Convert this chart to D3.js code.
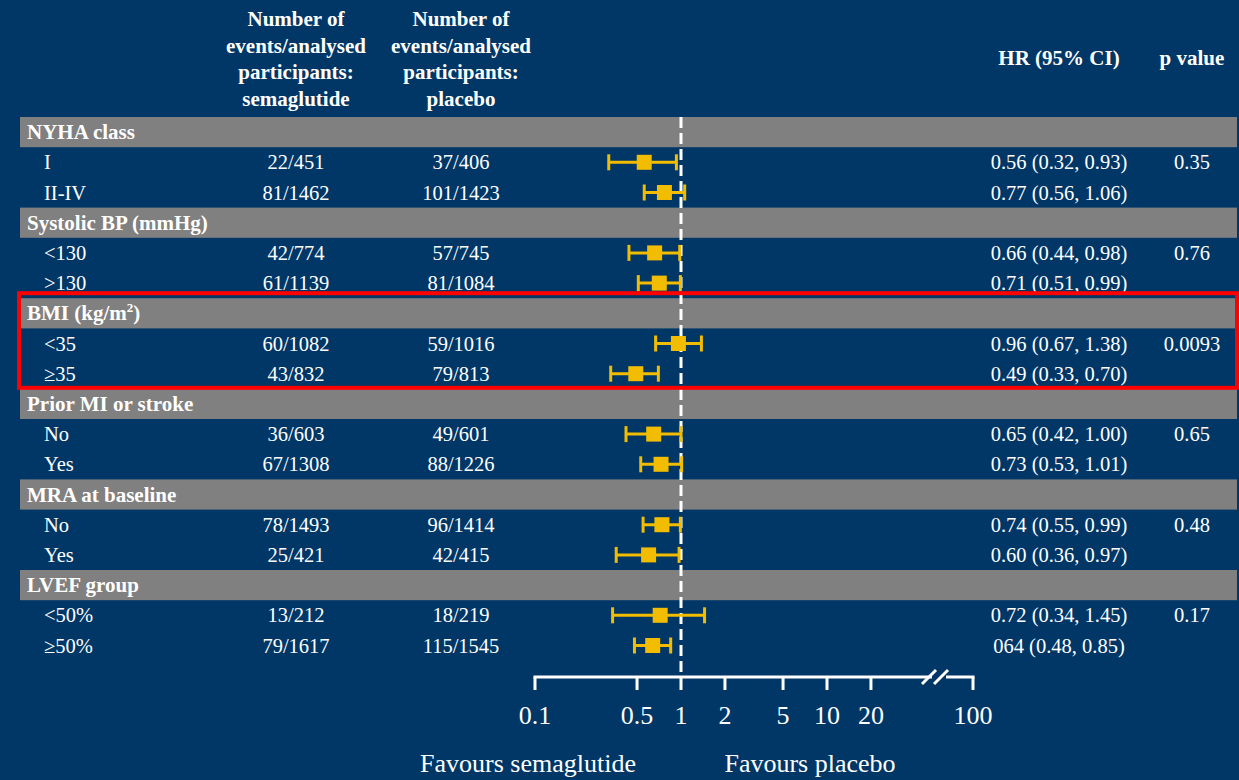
<!DOCTYPE html>
<html>
<head>
<meta charset="utf-8">
<script src="https://cdn.jsdelivr.net/npm/d3@7"></script>
<style>
  html, body { margin: 0; padding: 0; background: #013766; }
  svg { display: block; }
</style>
</head>
<body>
<svg id="chart" width="1239" height="780"></svg>
<script>
// Subgroup forest plot: semaglutide vs placebo
const groups = ["NYHA class", "Systolic BP (mmHg)", "BMI (kg/m²)", "Prior MI or stroke", "MRA at baseline", "LVEF group"];
const subgroups = [["I", "II-IV"], ["<130", ">130"], ["<35", "≥35"], ["No", "Yes"], ["No", "Yes"], ["<50%", "≥50%"]];
const semaEvents = [["22/451", "81/1462"], ["42/774", "61/1139"], ["60/1082", "43/832"], ["36/603", "67/1308"], ["78/1493", "25/421"], ["13/212", "79/1617"]];
const placeboEvents = [["37/406", "101/1423"], ["57/745", "81/1084"], ["59/1016", "79/813"], ["49/601", "88/1226"], ["96/1414", "42/415"], ["18/219", "115/1545"]];
const hr = [[0.56, 0.77], [0.66, 0.71], [0.96, 0.49], [0.65, 0.73], [0.74, 0.60], [0.72, 0.64]];
const ciLow = [[0.32, 0.56], [0.44, 0.51], [0.67, 0.33], [0.42, 0.53], [0.55, 0.36], [0.34, 0.48]];
const ciHigh = [[0.93, 1.06], [0.98, 0.99], [1.38, 0.70], [1.00, 1.01], [0.99, 0.97], [1.45, 0.85]];
const hrLabels = [["0.56 (0.32, 0.93)", "0.77 (0.56, 1.06)"], ["0.66 (0.44, 0.98)", "0.71 (0.51, 0.99)"], ["0.96 (0.67, 1.38)", "0.49 (0.33, 0.70)"], ["0.65 (0.42, 1.00)", "0.73 (0.53, 1.01)"], ["0.74 (0.55, 0.99)", "0.60 (0.36, 0.97)"], ["0.72 (0.34, 1.45)", "064 (0.48, 0.85)"]];
const pValues = ["0.35", "0.76", "0.0093", "0.65", "0.48", "0.17"];
const axisTicks = [0.1, 0.5, 1, 2, 5, 10, 20, 100];
const highlightedGroup = 2;

const svg = d3.select("#chart");
const W = 1239, H = 780;
const navy = "#013766", grey = "#808080", gold = "#F2BC00", white = "#ffffff";
const serif = "'Liberation Serif', 'Times New Roman', serif";
const bodySize = 20.5, headSize = 21, axisSize = 26;

svg.append("rect").attr("width", W).attr("height", H).attr("fill", navy);

// Row layout: each group = header row + two subgroup rows
const rowsPerGroup = 3;
const nRows = groups.length * rowsPerGroup;
const y = d3.scaleLinear().domain([0, nRows]).range([117, 117 + 30.2 * nRows]);
const x = d3.scaleLog().domain([0.1, 100]).range([535, 973]);

const colSema = 296, colPlacebo = 461, colHR = 1059, colP = 1192;

// Column headers
const headerLines = [
  { x: colSema, lines: ["Number of", "events/analysed", "participants:", "semaglutide"] },
  { x: colPlacebo, lines: ["Number of", "events/analysed", "participants:", "placebo"] }
];
headerLines.forEach(h => {
  svg.append("text")
    .attr("x", h.x).attr("y", 26)
    .attr("text-anchor", "middle")
    .attr("font-family", serif).attr("font-size", headSize).attr("font-weight", "bold")
    .attr("fill", white)
    .selectAll("tspan").data(h.lines).join("tspan")
    .attr("x", h.x).attr("dy", (d, i) => i === 0 ? 0 : 26.7)
    .text(d => d);
});
svg.append("text").attr("x", colHR).attr("y", 65).attr("text-anchor", "middle")
  .attr("font-family", serif).attr("font-size", headSize).attr("font-weight", "bold")
  .attr("fill", white).text("HR (95% CI)");
svg.append("text").attr("x", colP).attr("y", 65).attr("text-anchor", "middle")
  .attr("font-family", serif).attr("font-size", headSize).attr("font-weight", "bold")
  .attr("fill", white).text("p value");

// Group header bands
const gGroups = svg.append("g");
groups.forEach((g, gi) => {
  const r = gi * rowsPerGroup;
  gGroups.append("rect")
    .attr("x", 20).attr("width", 1217)
    .attr("y", y(r)).attr("height", y(r + 1) - y(r))
    .attr("fill", grey);
  const t = gGroups.append("text")
    .attr("x", 27).attr("y", y(r + 0.5) + 7)
    .attr("font-family", serif).attr("font-size", headSize).attr("font-weight", "bold")
    .attr("fill", white);
  if (g.includes("²")) {
    t.append("tspan").text("BMI (kg/m");
    t.append("tspan").attr("font-size", 13).attr("dy", -8).text("2");
    t.append("tspan").attr("dy", 8).text(")");
  } else {
    t.text(g);
  }
});

// Reference line at HR = 1
svg.append("line")
  .attr("x1", x(1)).attr("x2", x(1))
  .attr("y1", y(0)).attr("y2", 677)
  .attr("stroke", white).attr("stroke-width", 3)
  .attr("stroke-dasharray", "11,5");

// Subgroup rows
const gRows = svg.append("g");
groups.forEach((g, gi) => {
  subgroups[gi].forEach((s, si) => {
    const r = gi * rowsPerGroup + 1 + si;
    const cy = y(r + 0.5);
    const ty = cy + 7;
    const txt = (xx, label, anchor) => gRows.append("text")
      .attr("x", xx).attr("y", ty).attr("text-anchor", anchor)
      .attr("font-family", serif).attr("font-size", bodySize).attr("fill", white).text(label);
    txt(44, s, "start");
    txt(colSema, semaEvents[gi][si], "middle");
    txt(colPlacebo, placeboEvents[gi][si], "middle");
    txt(colHR, hrLabels[gi][si], "middle");
    if (si === 0) txt(colP, pValues[gi], "middle");

    // Confidence interval with end caps
    const lo = x(ciLow[gi][si]), hi = x(ciHigh[gi][si]), pt = x(hr[gi][si]);
    gRows.append("line").attr("x1", lo).attr("x2", hi).attr("y1", cy).attr("y2", cy)
      .attr("stroke", gold).attr("stroke-width", 3);
    [lo, hi].forEach(cx => gRows.append("line")
      .attr("x1", cx).attr("x2", cx).attr("y1", cy - 8).attr("y2", cy + 8)
      .attr("stroke", gold).attr("stroke-width", 3));
    gRows.append("rect")
      .attr("x", pt - 7.5).attr("y", cy - 7.5).attr("width", 15).attr("height", 15)
      .attr("fill", gold);
  });
});

// Highlight box around one group
{
  const r0 = highlightedGroup * rowsPerGroup;
  svg.append("rect")
    .attr("x", 19).attr("y", y(r0) - 5)
    .attr("width", 1218).attr("height", y(r0 + 3) - y(r0) + 4)
    .attr("fill", "none").attr("stroke", "#FF0000").attr("stroke-width", 4);
}

// Hazard-ratio axis (log scale, with a break before 100)
const axisY = 677;
const gAxis = svg.append("g").attr("stroke", white).attr("stroke-width", 3).attr("fill", "none");
const breakL = 932, breakR = 946;
gAxis.append("line").attr("x1", x(0.1) - 1.5).attr("x2", breakL).attr("y1", axisY).attr("y2", axisY);
gAxis.append("line").attr("x1", breakR).attr("x2", x(100) + 1.5).attr("y1", axisY).attr("y2", axisY);
[breakL - 8, breakL + 4].forEach(bx => gAxis.append("line")
  .attr("x1", bx - 2).attr("y1", axisY + 7).attr("x2", bx + 12).attr("y2", axisY - 7)
  .attr("stroke-width", 3));
gAxis.selectAll("line.tick").data(axisTicks).join("line").attr("class", "tick")
  .attr("x1", d => x(d)).attr("x2", d => x(d))
  .attr("y1", axisY).attr("y2", axisY + 13);
svg.append("g").selectAll("text").data(axisTicks).join("text")
  .attr("x", d => x(d)).attr("y", 724)
  .attr("text-anchor", "middle")
  .attr("font-family", serif).attr("font-size", axisSize).attr("fill", white)
  .text(d => d3.format("")(d));

svg.append("text").attr("x", 528).attr("y", 772).attr("text-anchor", "middle")
  .attr("font-family", serif).attr("font-size", axisSize).attr("fill", white).text("Favours semaglutide");
svg.append("text").attr("x", 810).attr("y", 772).attr("text-anchor", "middle")
  .attr("font-family", serif).attr("font-size", axisSize).attr("fill", white).text("Favours placebo");
</script>
</body>
</html>
